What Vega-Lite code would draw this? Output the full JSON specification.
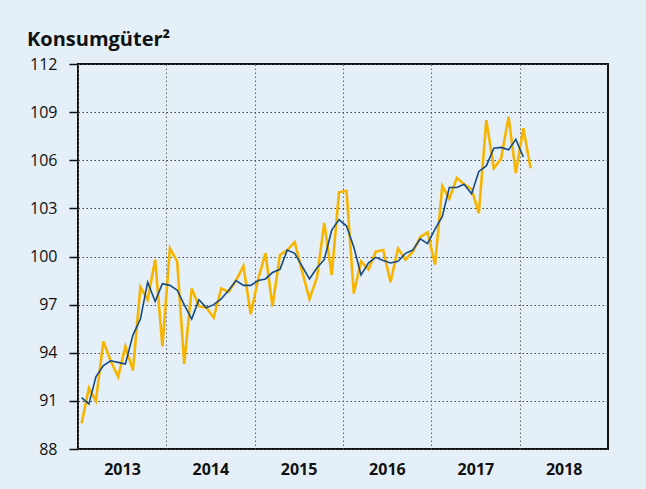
{
  "$schema": "https://vega.github.io/schema/vega-lite/v6.json",
  "autosize": "none",
  "width": 530,
  "height": 385,
  "padding": {"left": 78, "top": 64, "right": 38, "bottom": 40},
  "background": "#e4eff7",
  "config": {
    "view": {"stroke": "#111111", "strokeWidth": 2, "fill": "#e4eff7"},
    "font": "Open Sans"
  },
  "title": {
    "text": "Konsumgüter²",
    "anchor": "start",
    "frame": "group",
    "dx": -51,
    "offset": 6,
    "fontSize": 20,
    "fontWeight": "bold",
    "font": "Open Sans",
    "color": "#111111"
  },
  "datasets": {
    "rows": [
      {"date": "2013-01-16", "monthly": 89.6, "avg": 91.2},
      {"date": "2013-02-15", "monthly": 91.8, "avg": 90.8},
      {"date": "2013-03-16", "monthly": 91.0, "avg": 92.5},
      {"date": "2013-04-16", "monthly": 94.7, "avg": 93.2},
      {"date": "2013-05-16", "monthly": 93.5, "avg": 93.5},
      {"date": "2013-06-16", "monthly": 92.5, "avg": 93.4},
      {"date": "2013-07-16", "monthly": 94.4, "avg": 93.3},
      {"date": "2013-08-16", "monthly": 92.9, "avg": 95.1},
      {"date": "2013-09-16", "monthly": 98.1, "avg": 96.1},
      {"date": "2013-10-16", "monthly": 97.3, "avg": 98.4},
      {"date": "2013-11-16", "monthly": 99.8, "avg": 97.2},
      {"date": "2013-12-16", "monthly": 94.4, "avg": 98.3},
      {"date": "2014-01-16", "monthly": 100.5, "avg": 98.2},
      {"date": "2014-02-15", "monthly": 99.7, "avg": 97.9},
      {"date": "2014-03-16", "monthly": 93.3, "avg": 97.0},
      {"date": "2014-04-16", "monthly": 98.0, "avg": 96.1},
      {"date": "2014-05-16", "monthly": 96.9, "avg": 97.3},
      {"date": "2014-06-16", "monthly": 96.8, "avg": 96.8},
      {"date": "2014-07-16", "monthly": 96.2, "avg": 97.0},
      {"date": "2014-08-16", "monthly": 98.0, "avg": 97.35},
      {"date": "2014-09-16", "monthly": 97.8, "avg": 97.9},
      {"date": "2014-10-16", "monthly": 98.5, "avg": 98.5},
      {"date": "2014-11-16", "monthly": 99.4, "avg": 98.2},
      {"date": "2014-12-16", "monthly": 96.4, "avg": 98.2},
      {"date": "2015-01-16", "monthly": 98.6, "avg": 98.5},
      {"date": "2015-02-15", "monthly": 100.2, "avg": 98.6},
      {"date": "2015-03-16", "monthly": 96.9, "avg": 99.0},
      {"date": "2015-04-16", "monthly": 100.1, "avg": 99.2},
      {"date": "2015-05-16", "monthly": 100.4, "avg": 100.4},
      {"date": "2015-06-16", "monthly": 100.9, "avg": 100.2},
      {"date": "2015-07-16", "monthly": 99.1, "avg": 99.4},
      {"date": "2015-08-16", "monthly": 97.35, "avg": 98.6},
      {"date": "2015-09-16", "monthly": 98.7, "avg": 99.3},
      {"date": "2015-10-16", "monthly": 102.1, "avg": 99.8},
      {"date": "2015-11-16", "monthly": 98.85, "avg": 101.65},
      {"date": "2015-12-16", "monthly": 104.0, "avg": 102.3},
      {"date": "2016-01-16", "monthly": 104.1, "avg": 101.9},
      {"date": "2016-02-15", "monthly": 97.7, "avg": 100.6},
      {"date": "2016-03-16", "monthly": 99.7, "avg": 98.85},
      {"date": "2016-04-16", "monthly": 99.2, "avg": 99.6},
      {"date": "2016-05-16", "monthly": 100.3, "avg": 99.95},
      {"date": "2016-06-16", "monthly": 100.4, "avg": 99.75},
      {"date": "2016-07-16", "monthly": 98.4, "avg": 99.6},
      {"date": "2016-08-16", "monthly": 100.5, "avg": 99.7},
      {"date": "2016-09-16", "monthly": 99.8, "avg": 100.2},
      {"date": "2016-10-16", "monthly": 100.3, "avg": 100.4},
      {"date": "2016-11-16", "monthly": 101.2, "avg": 101.1},
      {"date": "2016-12-16", "monthly": 101.5, "avg": 100.8},
      {"date": "2017-01-16", "monthly": 99.5, "avg": 101.7},
      {"date": "2017-02-15", "monthly": 104.4, "avg": 102.5},
      {"date": "2017-03-16", "monthly": 103.6, "avg": 104.3},
      {"date": "2017-04-16", "monthly": 104.9, "avg": 104.3},
      {"date": "2017-05-16", "monthly": 104.5, "avg": 104.5},
      {"date": "2017-06-16", "monthly": 104.2, "avg": 103.9},
      {"date": "2017-07-16", "monthly": 102.7, "avg": 105.3},
      {"date": "2017-08-16", "monthly": 108.5, "avg": 105.65},
      {"date": "2017-09-16", "monthly": 105.5, "avg": 106.75},
      {"date": "2017-10-16", "monthly": 106.1, "avg": 106.8},
      {"date": "2017-11-16", "monthly": 108.7, "avg": 106.65},
      {"date": "2017-12-16", "monthly": 105.2, "avg": 107.3},
      {"date": "2018-01-16", "monthly": 108.0, "avg": 106.2},
      {"date": "2018-02-15", "monthly": 105.5, "avg": null}
    ]
  },
  "data": {"name": "rows"},
  "encoding": {
    "x": {
      "field": "date",
      "type": "temporal",
      "title": null,
      "scale": {
        "type": "utc",
        "domain": [
          {"year": 2013, "month": 1, "date": 1, "utc": true},
          {"year": 2019, "month": 1, "date": 1, "utc": true}
        ],
        "nice": false
      },
      "axis": {
        "values": [
          {"year": 2013, "month": 1, "date": 1, "utc": true},
          {"year": 2014, "month": 1, "date": 1, "utc": true},
          {"year": 2015, "month": 1, "date": 1, "utc": true},
          {"year": 2016, "month": 1, "date": 1, "utc": true},
          {"year": 2017, "month": 1, "date": 1, "utc": true},
          {"year": 2018, "month": 1, "date": 1, "utc": true}
        ],
        "format": "%Y",
        "labelOffset": 44,
        "labelAlign": "center",
        "labelBound": false,
        "labelFlush": false,
        "labelOverlap": false,
        "labelFontSize": 16,
        "labelFontWeight": "bold",
        "labelColor": "#111111",
        "labelPadding": 12,
        "ticks": false,
        "domain": false,
        "grid": true,
        "gridColor": "#666666",
        "gridDash": [1.5, 2.5],
        "gridWidth": 1
      }
    }
  },
  "layer": [
    {
      "mark": {"type": "line", "color": "#f7b500", "strokeWidth": 2.6, "strokeJoin": "miter"},
      "encoding": {
        "y": {
          "field": "monthly",
          "type": "quantitative",
          "title": null,
          "scale": {"domain": [88, 112], "nice": false, "zero": false},
          "axis": {
            "values": [88, 91, 94, 97, 100, 103, 106, 109, 112],
            "labelFontSize": 16,
            "labelColor": "#111111",
            "labelPadding": 12,
            "tickSize": 9,
            "tickColor": "#111111",
            "tickWidth": 1.5,
            "domain": false,
            "grid": true,
            "gridColor": "#444444",
            "gridDash": [1.5, 2.5],
            "gridWidth": 1
          }
        }
      }
    },
    {
      "mark": {"type": "line", "color": "#154a85", "strokeWidth": 1.6},
      "encoding": {
        "y": {"field": "avg", "type": "quantitative"}
      }
    }
  ]
}
